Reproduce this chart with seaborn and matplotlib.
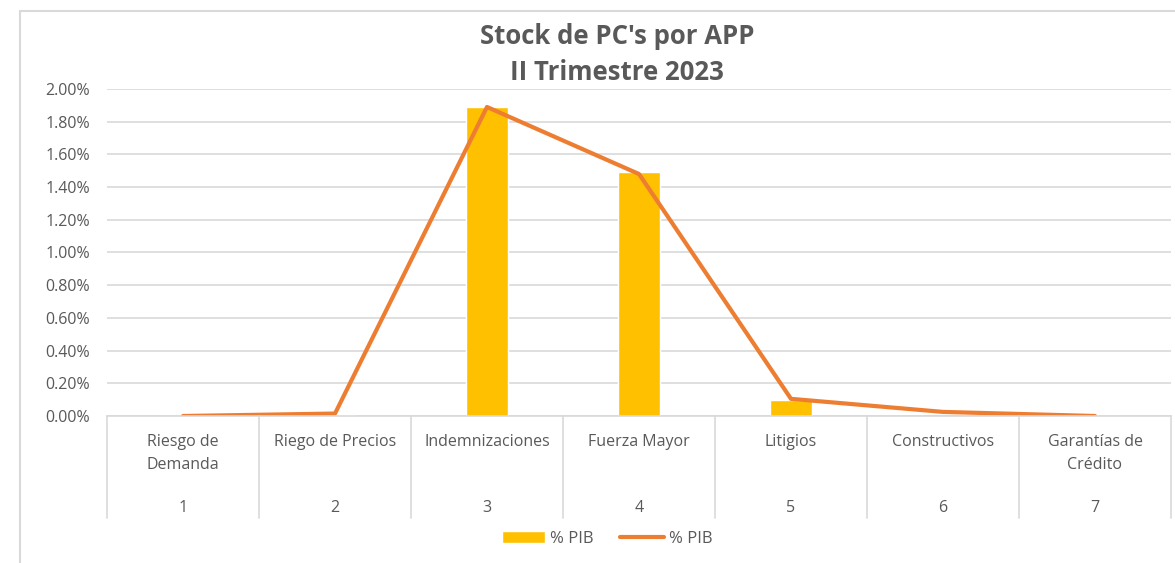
import matplotlib
matplotlib.use("Agg")
import matplotlib.pyplot as plt
import matplotlib.patches as mpatches
import matplotlib.transforms as mtransforms
from matplotlib.ticker import FuncFormatter, MultipleLocator
import numpy as np
import pandas as pd
import seaborn as sns


CATEGORIES = [
    "Riesgo de\nDemanda",
    "Riego de Precios",
    "Indemnizaciones",
    "Fuerza Mayor",
    "Litigios",
    "Constructivos",
    "Garantías de\nCrédito",
]
CATEGORY_NUMBERS = ["1", "2", "3", "4", "5", "6", "7"]
BAR_PIB = [0.0, 0.005, 1.89, 1.49, 0.10, 0.015, 0.0]
LINE_PIB = [0.0, 0.015, 1.89, 1.48, 0.105, 0.025, 0.0]

TEXT_COLOR = "#595959"
GRID_COLOR = "#D9D9D9"
BAR_COLOR = "#FFC000"
LINE_COLOR = "#ED7D31"

W, H = 1175, 563


def main() -> None:
    sns.set_style("white")
    plt.rcParams["font.family"] = ["Open Sans", "DejaVu Sans"]

    data = pd.DataFrame({"cat": CATEGORY_NUMBERS, "bar": BAR_PIB, "line": LINE_PIB})

    fig = plt.figure(figsize=(W / 100, H / 100), dpi=100)
    ax = fig.add_axes([107 / W, 1 - 416 / H, (1171 - 107) / W, (416 - 89) / H])

    sns.barplot(data=data, x="cat", y="bar", color=BAR_COLOR, width=0.28,
                saturation=1, ax=ax, label="% PIB")
    sns.lineplot(x=np.arange(len(LINE_PIB)), y=data["line"], color=LINE_COLOR,
                 linewidth=3.0, ax=ax, label="% PIB")

    ax.set_xlim(-0.5, len(CATEGORIES) - 0.5)
    ax.set_ylim(0, 2.0)
    ax.yaxis.set_major_locator(MultipleLocator(0.2))
    ax.yaxis.set_major_formatter(FuncFormatter(lambda v, _: f"{v:.2f}%"))
    ax.tick_params(axis="y", length=0, pad=12, labelsize=11.5, labelcolor=TEXT_COLOR)
    ax.set_xticks([])
    ax.set_xlabel("")
    ax.set_ylabel("")
    ax.grid(axis="y", color=GRID_COLOR, linewidth=1.2)
    ax.set_axisbelow(True)
    for side in ["top", "right", "left"]:
        ax.spines[side].set_visible(False)
    ax.spines["bottom"].set_color(GRID_COLOR)
    ax.spines["bottom"].set_linewidth(1.2)

    # multi-level category axis
    trans = mtransforms.blended_transform_factory(ax.transData, ax.transAxes)
    px = 1 / (416 - 89)
    for i, (label, num) in enumerate(zip(CATEGORIES, CATEGORY_NUMBERS)):
        ax.text(i, -18 * px, label, transform=trans, ha="center", va="top",
                fontsize=11.5, color=TEXT_COLOR, linespacing=1.55)
        ax.text(i, -92 * px, num, transform=trans, ha="center", va="center",
                fontsize=11.5, color=TEXT_COLOR)
    for i in range(len(CATEGORIES) + 1):
        ax.plot([i - 0.5, i - 0.5], [0, -102 * px], transform=trans,
                color=GRID_COLOR, linewidth=1.2, clip_on=False)

    handles, labels = ax.get_legend_handles_labels()
    bar_first = [i for i, h in enumerate(handles) if not hasattr(h, "get_xdata")]
    bar_first += [i for i in range(len(handles)) if i not in bar_first]
    ax.legend([handles[i] for i in bar_first], [labels[i] for i in bar_first],
              loc="center", bbox_to_anchor=(607 / W, 1 - 539 / H),
              bbox_transform=fig.transFigure, ncol=2, frameon=False,
              fontsize=12, labelcolor=TEXT_COLOR, handlelength=2.6,
              handletextpad=0.3, columnspacing=1.6)

    fig.text(617 / W, 1 - 36 / H, "Stock de PC's por APP", ha="center", va="center",
             fontsize=18.5, fontweight="bold", color=TEXT_COLOR)
    fig.text(617 / W, 1 - 72 / H, "II Trimestre 2023", ha="center", va="center",
             fontsize=18.5, fontweight="bold", color=TEXT_COLOR)

    fig.patches.append(mpatches.Rectangle(
        (20 / W, -0.1), 1.0, 1.1 - 11 / H, transform=fig.transFigure,
        fill=False, edgecolor=GRID_COLOR, linewidth=1.5))

    fig.savefig("out.png", dpi=100)
    plt.close(fig)


if __name__ == "__main__":
    main()
